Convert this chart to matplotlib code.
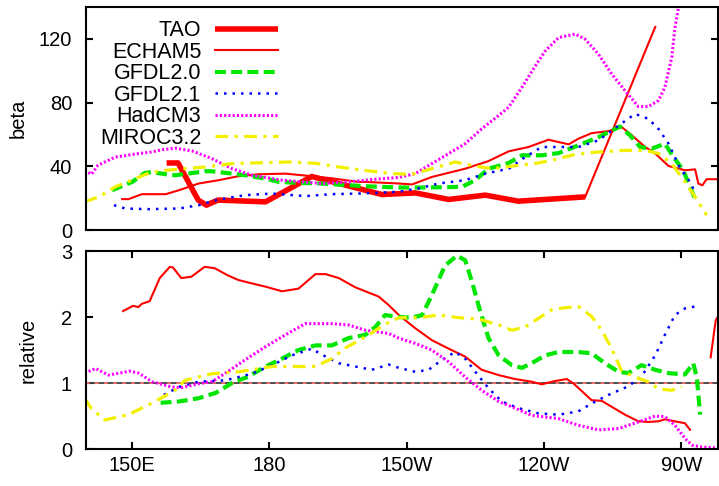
import matplotlib
matplotlib.use("Agg")
import matplotlib.pyplot as plt

plt.rcParams['font.family'] = ['Liberation Sans', 'DejaVu Sans']

# ---- top panel: beta ----
tao_lon = [157.6, 160.1, 164.5, 166.3, 168.8, 179.2, 189.3, 204.6, 211.9, 219.2, 227.2, 234.4, 249.0]
tao_beta = [42.1, 42.1, 18.8, 15.6, 18.8, 17.7, 33.6, 22.3, 23.3, 19.2, 21.9, 18.1, 20.8]
tao_tail_lon = [249.0, 264.3]
tao_tail_beta = [20.8, 127.5]

echam_lon = [147.9, 149.3, 152.2, 157.4, 160.3, 164.6, 169.0, 173.3, 177.7, 183.5, 189.3, 193.6,
             199.5, 201.0, 208.3, 211.2, 215.5, 222.8, 227.9, 232.3, 236.6, 241.0, 243.2, 245.4,
             247.5, 250.4, 254.1, 257.0, 259.2, 262.1, 264.3, 267.2, 270.8, 273.0, 273.7, 274.6,
             275.5, 278.0]
echam_beta = [19.4, 19.4, 22.5, 22.5, 25.0, 29.2, 31.3, 33.8, 35.0, 35.4, 33.8, 32.5,
              30.2, 30.2, 29.2, 28.6, 33.3, 38.5, 43.3, 49.4, 52.1, 56.7, 55.2, 53.8,
              57.3, 60.8, 62.1, 64.6, 59.4, 52.1, 48.0, 40.2, 37.5, 38.1, 29.2, 28.1,
              31.9, 31.9]

gfdl20_lon = [145.7, 150.1, 152.8, 154.4, 158.7, 159.5, 166.1, 167.4, 171.9, 174.7, 179.2, 182.1,
              186.4, 191.5, 201.0, 208.3, 214.1, 222.1, 225.0, 227.9, 232.3, 235.2, 239.5, 243.2,
              247.5, 251.9, 256.6, 258.8, 261.0, 263.5, 266.4, 268.3, 270.4, 273.1]
gfdl20_beta = [25.0, 30.2, 35.8, 36.4, 34.4, 34.4, 36.9, 36.9, 35.4, 34.4, 32.3, 30.2,
               29.6, 29.2, 27.5, 26.7, 26.7, 27.1, 31.3, 38.5, 42.1, 46.9, 46.9, 48.3,
               53.1, 58.3, 65.0, 59.4, 52.1, 51.0, 54.2, 45.8, 37.5, 18.8]

gfdl21_lon = [146.1, 148.6, 153.7, 160.3, 164.6, 169.0, 174.8, 180.6, 187.9, 193.6, 199.5, 208.3,
              212.6, 217.0, 222.8, 227.2, 232.3, 235.9, 239.5, 247.5, 251.9, 256.3, 259.9, 262.8,
              265.0, 267.2, 269.4, 271.6, 273.0]
gfdl21_beta = [15.6, 13.5, 13.1, 13.5, 15.6, 19.2, 21.9, 22.9, 21.3, 22.5, 22.9, 24.0,
               26.1, 29.2, 31.3, 35.4, 38.5, 45.8, 52.1, 52.1, 56.3, 65.6, 72.9, 69.8,
               63.5, 54.2, 40.6, 31.3, 24.0]

hadcm3_lon = [139.7, 141.2, 142.6, 146.4, 151.5, 154.3, 156.6, 159.5, 163.2, 167.5, 171.9, 176.2,
              182.8, 191.5, 197.3, 202.4, 208.3, 211.9, 215.5, 219.2, 222.8, 226.4, 230.1, 232.3,
              235.2, 238.1, 240.3, 243.2, 246.8, 249.0, 251.9, 254.8, 257.7, 260.6, 262.8, 265.0,
              266.4, 267.9, 268.6, 269.4, 270.0]
hadcm3_beta = [37.5, 35.0, 40.6, 45.8, 48.0, 49.0, 50.4, 51.4, 49.6, 44.8, 38.5, 34.4,
               31.3, 29.2, 30.2, 31.7, 33.0, 35.4, 41.7, 48.0, 54.2, 63.5, 71.9, 77.1,
               89.6, 103.0, 112.5, 120.8, 123.0, 119.8, 110.4, 97.9, 87.5, 77.5, 77.5, 81.3,
               89.6, 108.3, 127.0, 140.0, 150.0]

miroc_lon = [139.7, 142.8, 146.4, 150.8, 153.7, 157.4, 161.7, 166.1, 171.9, 179.2, 184.3, 190.1,
             195.2, 199.5, 206.8, 211.2, 215.5, 220.6, 224.2, 228.6, 234.4, 238.8, 243.2, 246.8,
             251.9, 257.7, 262.1, 265.0, 267.9, 270.8, 273.0, 275.5]
miroc_beta = [17.7, 20.8, 27.1, 32.3, 35.8, 37.5, 38.5, 39.6, 41.7, 42.3, 42.7, 41.9,
              39.6, 37.9, 35.4, 35.0, 38.5, 42.7, 40.6, 38.5, 40.6, 42.1, 44.8, 47.5,
              49.0, 50.0, 50.0, 48.0, 41.7, 30.2, 20.8, 9.4]

# ---- bottom panel: relative ----
ref_level = 1.0

echam_rel_lon = [148.1, 150.3, 151.4, 152.2, 153.9, 156.1, 158.3, 159.0, 160.8, 163.0, 165.9, 168.1,
                 171.0, 173.3, 176.2, 179.2, 182.8, 186.4, 190.1, 192.3, 195.2, 198.8, 203.9, 206.1,
                 208.3, 211.9, 215.5, 219.2, 222.8, 226.4, 230.1, 233.7, 237.3, 239.5, 242.4, 245.0,
                 246.5, 250.4, 252.6, 257.7, 260.6, 262.8, 265.0, 266.4, 268.6, 270.8, 271.9]
echam_rel = [2.09, 2.17, 2.15, 2.20, 2.24, 2.59, 2.76, 2.75, 2.59, 2.61, 2.76, 2.74,
             2.63, 2.56, 2.51, 2.46, 2.39, 2.43, 2.65, 2.65, 2.59, 2.45, 2.31, 2.18,
             2.03, 1.83, 1.65, 1.52, 1.40, 1.20, 1.12, 1.06, 1.02, 0.98, 1.03, 1.06,
             0.99, 0.74, 0.73, 0.52, 0.42, 0.41, 0.42, 0.45, 0.42, 0.39, 0.29]
echam_rel_tail_lon = [276.4, 277.5, 278.4]
echam_rel_tail = [1.39, 1.95, 2.05]

gfdl20_rel_lon = [156.3, 160.3, 164.6, 168.3, 171.9, 175.5, 179.2, 182.8, 186.4, 190.1, 193.7, 197.3,
                  201.0, 203.2, 205.3, 208.3, 211.2, 213.4, 215.5, 218.4, 221.0, 222.8, 224.3, 226.1,
                  227.9, 230.1, 233.0, 235.2, 237.3, 240.3, 243.2, 247.5, 250.4, 253.3, 256.3, 258.4,
                  261.3, 264.3, 267.2, 270.8, 272.6, 273.4, 274.1]
gfdl20_rel = [0.70, 0.72, 0.77, 0.85, 1.00, 1.10, 1.25, 1.37, 1.50, 1.57, 1.57, 1.68,
              1.73, 1.85, 2.03, 2.00, 1.99, 2.03, 2.33, 2.78, 2.93, 2.86, 2.53, 2.08,
              1.68, 1.42, 1.27, 1.23, 1.30, 1.42, 1.47, 1.47, 1.45, 1.30, 1.17, 1.15,
              1.27, 1.20, 1.15, 1.13, 1.30, 1.07, 0.52]

gfdl21_rel_lon = [157.0, 160.3, 164.6, 170.4, 176.2, 180.6, 185.0, 189.3, 191.5, 195.2, 198.8, 202.4,
                  206.1, 208.3, 211.9, 214.8, 217.7, 220.6, 222.8, 225.0, 227.9, 230.8, 234.4, 238.8,
                  243.2, 247.5, 250.4, 254.1, 258.4, 261.3, 264.3, 266.4, 268.6, 270.8, 273.0]
gfdl21_rel = [0.82, 0.94, 1.02, 1.04, 1.14, 1.27, 1.42, 1.52, 1.43, 1.30, 1.25, 1.20,
              1.28, 1.23, 1.17, 1.20, 1.35, 1.47, 1.37, 1.17, 0.92, 0.72, 0.62, 0.54,
              0.52, 0.57, 0.69, 0.82, 0.95, 1.10, 1.42, 1.73, 2.03, 2.13, 2.16]

hadcm3_rel_lon = [139.7, 142.1, 144.9, 149.6, 151.5, 154.4, 158.7, 160.9, 164.6, 167.5, 170.9, 174.7,
                  179.2, 184.3, 187.9, 193.7, 197.3, 201.0, 206.1, 208.3, 211.9, 215.5, 219.2, 222.8,
                  226.4, 230.1, 233.7, 237.3, 243.2, 247.5, 251.9, 256.3, 260.6, 264.3, 266.4, 268.6,
                  270.8, 272.3, 274.4, 277.3]
hadcm3_rel = [1.15, 1.22, 1.12, 1.18, 1.15, 1.02, 0.94, 0.93, 0.99, 1.02, 1.17, 1.35,
              1.55, 1.76, 1.90, 1.90, 1.88, 1.80, 1.75, 1.68, 1.60, 1.50, 1.32, 1.09,
              0.89, 0.72, 0.62, 0.51, 0.46, 0.36, 0.29, 0.31, 0.41, 0.50, 0.49, 0.36,
              0.16, 0.06, 0.03, 0.02]

miroc_rel_lon = [139.7, 141.2, 144.1, 149.2, 154.3, 159.4, 161.6, 167.4, 173.3, 180.6, 190.1, 193.7,
                 196.6, 199.5, 202.4, 205.3, 208.3, 212.6, 217.0, 221.3, 225.7, 230.1, 233.0, 235.9,
                 238.8, 241.7, 243.2, 247.5, 250.4, 252.6, 254.8, 256.9, 259.8, 262.8, 265.0, 267.9,
                 270.1]
miroc_rel = [0.77, 0.61, 0.44, 0.52, 0.69, 0.89, 1.04, 1.14, 1.17, 1.25, 1.25, 1.37,
             1.53, 1.64, 1.76, 1.89, 1.99, 1.99, 2.03, 1.99, 1.97, 1.88, 1.80, 1.85,
             1.98, 2.11, 2.13, 2.16, 2.01, 1.80, 1.52, 1.19, 1.09, 1.02, 0.91, 0.89,
             0.94]

xtick_pos = [150, 180, 210, 240, 270]
xtick_labels = ['150E', '180', '150W', '120W', '90W']

RED = '#ff0000'
GREEN = '#00e600'
BLUE = '#0000ff'
MAGENTA = '#ff00ff'
YELLOW = '#f2f000'

styles = {
    'TAO': dict(color=RED, lw=4.0, solid_capstyle='butt'),
    'ECHAM5': dict(color=RED, lw=1.5),
    'GFDL2.0': dict(color=GREEN, lw=3.0, dashes=(2.6, 1.3)),
    'GFDL2.1': dict(color=BLUE, lw=1.8, dashes=(1.0, 2.4)),
    'HadCM3': dict(color=MAGENTA, lw=2.2, dashes=(0.7, 0.7)),
    'MIROC3.2': dict(color=YELLOW, lw=2.3, dashes=(4.0, 2.0, 1.0, 2.0)),
}

fig = plt.figure(figsize=(7.19, 4.86), dpi=100)
ax1 = fig.add_axes([86 / 719, 0.5267, 632 / 719, 0.4589])
ax2 = fig.add_axes([86 / 719, 0.0761, 632 / 719, 0.4074])

ax1.plot(tao_lon, tao_beta, label='TAO', **styles['TAO'])
ax1.plot(tao_tail_lon, tao_tail_beta, **styles['ECHAM5'])
ax1.plot(echam_lon, echam_beta, label='ECHAM5', **styles['ECHAM5'])
ax1.plot(gfdl20_lon, gfdl20_beta, label='GFDL2.0', **styles['GFDL2.0'])
ax1.plot(gfdl21_lon, gfdl21_beta, label='GFDL2.1', **styles['GFDL2.1'])
ax1.plot(hadcm3_lon, hadcm3_beta, label='HadCM3', **styles['HadCM3'])
ax1.plot(miroc_lon, miroc_beta, label='MIROC3.2', **styles['MIROC3.2'])

ax2.axhline(ref_level, color='#404040', lw=1.3)
ax2.axhline(ref_level, color='#ff7070', lw=1.3, dashes=(2, 3))
ax2.plot(echam_rel_lon, echam_rel, **styles['ECHAM5'])
ax2.plot(echam_rel_tail_lon, echam_rel_tail, **styles['ECHAM5'])
ax2.plot(gfdl20_rel_lon, gfdl20_rel, **styles['GFDL2.0'])
ax2.plot(gfdl21_rel_lon, gfdl21_rel, **styles['GFDL2.1'])
ax2.plot(hadcm3_rel_lon, hadcm3_rel, **styles['HadCM3'])
ax2.plot(miroc_rel_lon, miroc_rel, **styles['MIROC3.2'])

for ax in (ax1, ax2):
    ax.set_xlim(140, 278)
    for sp in ax.spines.values():
        sp.set_linewidth(1.5)
    ax.tick_params(direction='in', length=5, width=1.5, labelsize=14.5, pad=10)

ax1.set_ylim(0, 140)
ax1.set_yticks([0, 40, 80, 120])
ax1.tick_params(axis='y', right=True)
ax1.tick_params(axis='x', bottom=False, labelbottom=False)
ax1.set_ylabel('beta', fontsize=14.5, va='center')
ax1.yaxis.set_label_coords(-0.108, 0.5)

ax2.set_ylim(0, 3)
ax2.set_yticks([0, 1, 2, 3])
ax2.set_xticks(xtick_pos)
ax2.set_xticklabels(xtick_labels)
ax2.tick_params(axis='x', top=True, pad=5)
ax2.set_ylabel('relative', fontsize=14.5, va='center')
ax2.yaxis.set_label_coords(-0.092, 0.5)

leg = ax1.legend(loc='upper right', bbox_to_anchor=(0.3033, 0.94), frameon=False,
                 markerfirst=False, fontsize=15.5, borderpad=0, borderaxespad=0,
                 handlelength=2.9, handletextpad=0.65, labelspacing=0.02)

fig.savefig('out.png', dpi=100)
